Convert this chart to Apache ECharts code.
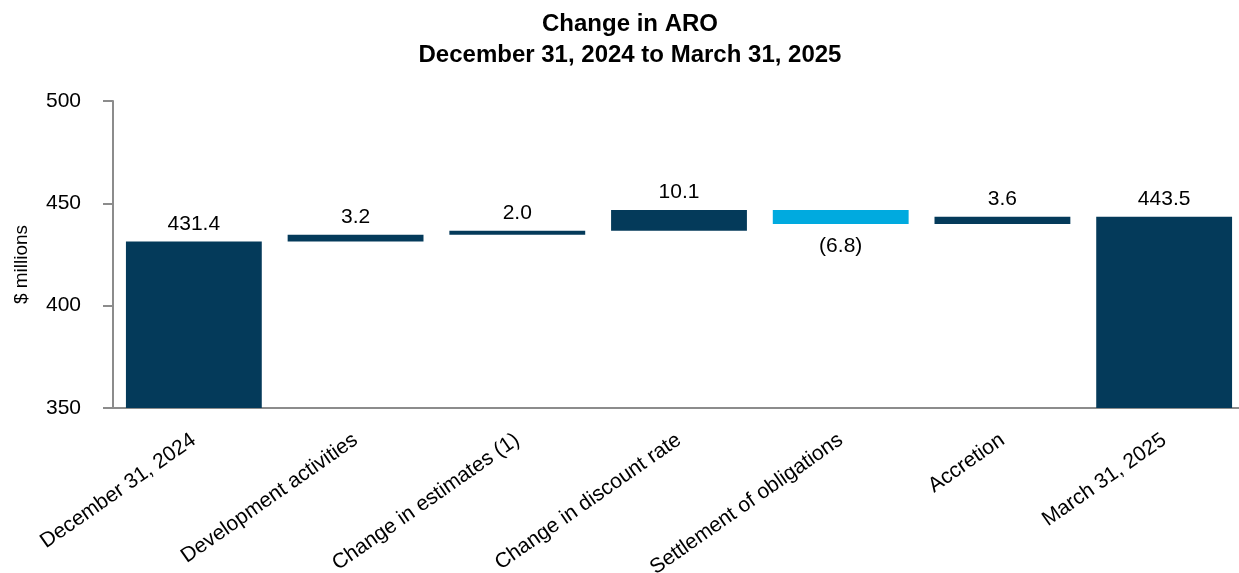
<!DOCTYPE html>
<html>
<head>
<meta charset="utf-8">
<script src="https://cdn.jsdelivr.net/npm/echarts@6/dist/echarts.min.js"></script>
<style>
  html, body { margin: 0; padding: 0; background: #fff; }
  #chart { width: 1239px; height: 573px; }
</style>
</head>
<body>
<div id="chart"></div>
<script>
// categories and values
const categories = ['December 31, 2024', 'Development activities', 'Change in estimates (1)',
  'Change in discount rate', 'Settlement of obligations', 'Accretion', 'March 31, 2025']
const startValue = 431.4
const changes = [3.2, 2.0, 10.1, -6.8, 3.6]
const endValue = 443.5
const yTicks = [350, 400, 450, 500]

const NAVY = '#043a5a'
const LIGHT = '#00aadf'

// build the floating pieces for the waterfall
const baseData = []
const barData = []
baseData.push(0)
barData.push({ value: startValue, itemStyle: { color: NAVY }, label: { position: 'top' } })
let running = startValue
changes.forEach(v => {
  if (v >= 0) {
    baseData.push(running)
    barData.push({ value: v, raw: v, itemStyle: { color: NAVY }, label: { position: 'top' } })
  } else {
    baseData.push(running + v)
    barData.push({ value: -v, raw: v, itemStyle: { color: LIGHT }, label: { position: 'bottom', distance: 12 } })
  }
  running += v
})
baseData.push(0)
barData.push({ value: endValue, itemStyle: { color: NAVY }, label: { position: 'top' } })

const chart = echarts.init(document.getElementById('chart'))
chart.setOption({
  animation: false,
  textStyle: { fontFamily: 'Liberation Sans, Arial, sans-serif' },
  title: {
    text: 'Change in ARO\nDecember 31, 2024 to March 31, 2025',
    left: 625,
    top: 4,
    textAlign: 'center',
    textStyle: { fontSize: 24, fontWeight: 'bold', color: '#000', lineHeight: 31 }
  },
  grid: { left: 113, right: -6, top: 101, bottom: 165, containLabel: false, outerBoundsMode: 'none' },
  xAxis: {
    type: 'category',
    data: categories,
    axisLine: { lineStyle: { color: '#8c8c8c', width: 2 } },
    axisTick: { alignWithLabel: true, length: 10, lineStyle: { color: '#8c8c8c', width: 2 } },
    axisLabel: { rotate: 35, fontSize: 21, color: '#000', margin: 30, interval: 0 }
  },
  yAxis: {
    type: 'value',
    min: yTicks[0],
    max: yTicks[yTicks.length - 1],
    interval: 50,
    name: '$ millions',
    nameLocation: 'middle',
    nameGap: 82,
    nameRotate: 90,
    nameTextStyle: { fontSize: 19, color: '#000', padding: [0, 0, 0, -20] },
    splitLine: { show: false },
    axisLine: { show: true, lineStyle: { color: '#8c8c8c', width: 2 } },
    axisTick: { show: true, length: 10, lineStyle: { color: '#8c8c8c', width: 2 } },
    axisLabel: { fontSize: 21, color: '#000', margin: 32 }
  },
  series: [
    {
      type: 'bar',
      stack: 'wf',
      data: baseData,
      itemStyle: { color: 'transparent' },
      barCategoryGap: '16%',
      silent: true
    },
    {
      type: 'bar',
      stack: 'wf',
      data: barData,
      barCategoryGap: '16%',
      label: {
        show: true,
        fontSize: 21,
        color: '#000',
        distance: 7,
        formatter: p => {
          const raw = p.data.raw !== undefined ? p.data.raw : p.data.value
          return raw < 0 ? '(' + (-raw).toFixed(1) + ')' : raw.toFixed(1)
        }
      }
    }
  ]
})
</script>
</body>
</html>
